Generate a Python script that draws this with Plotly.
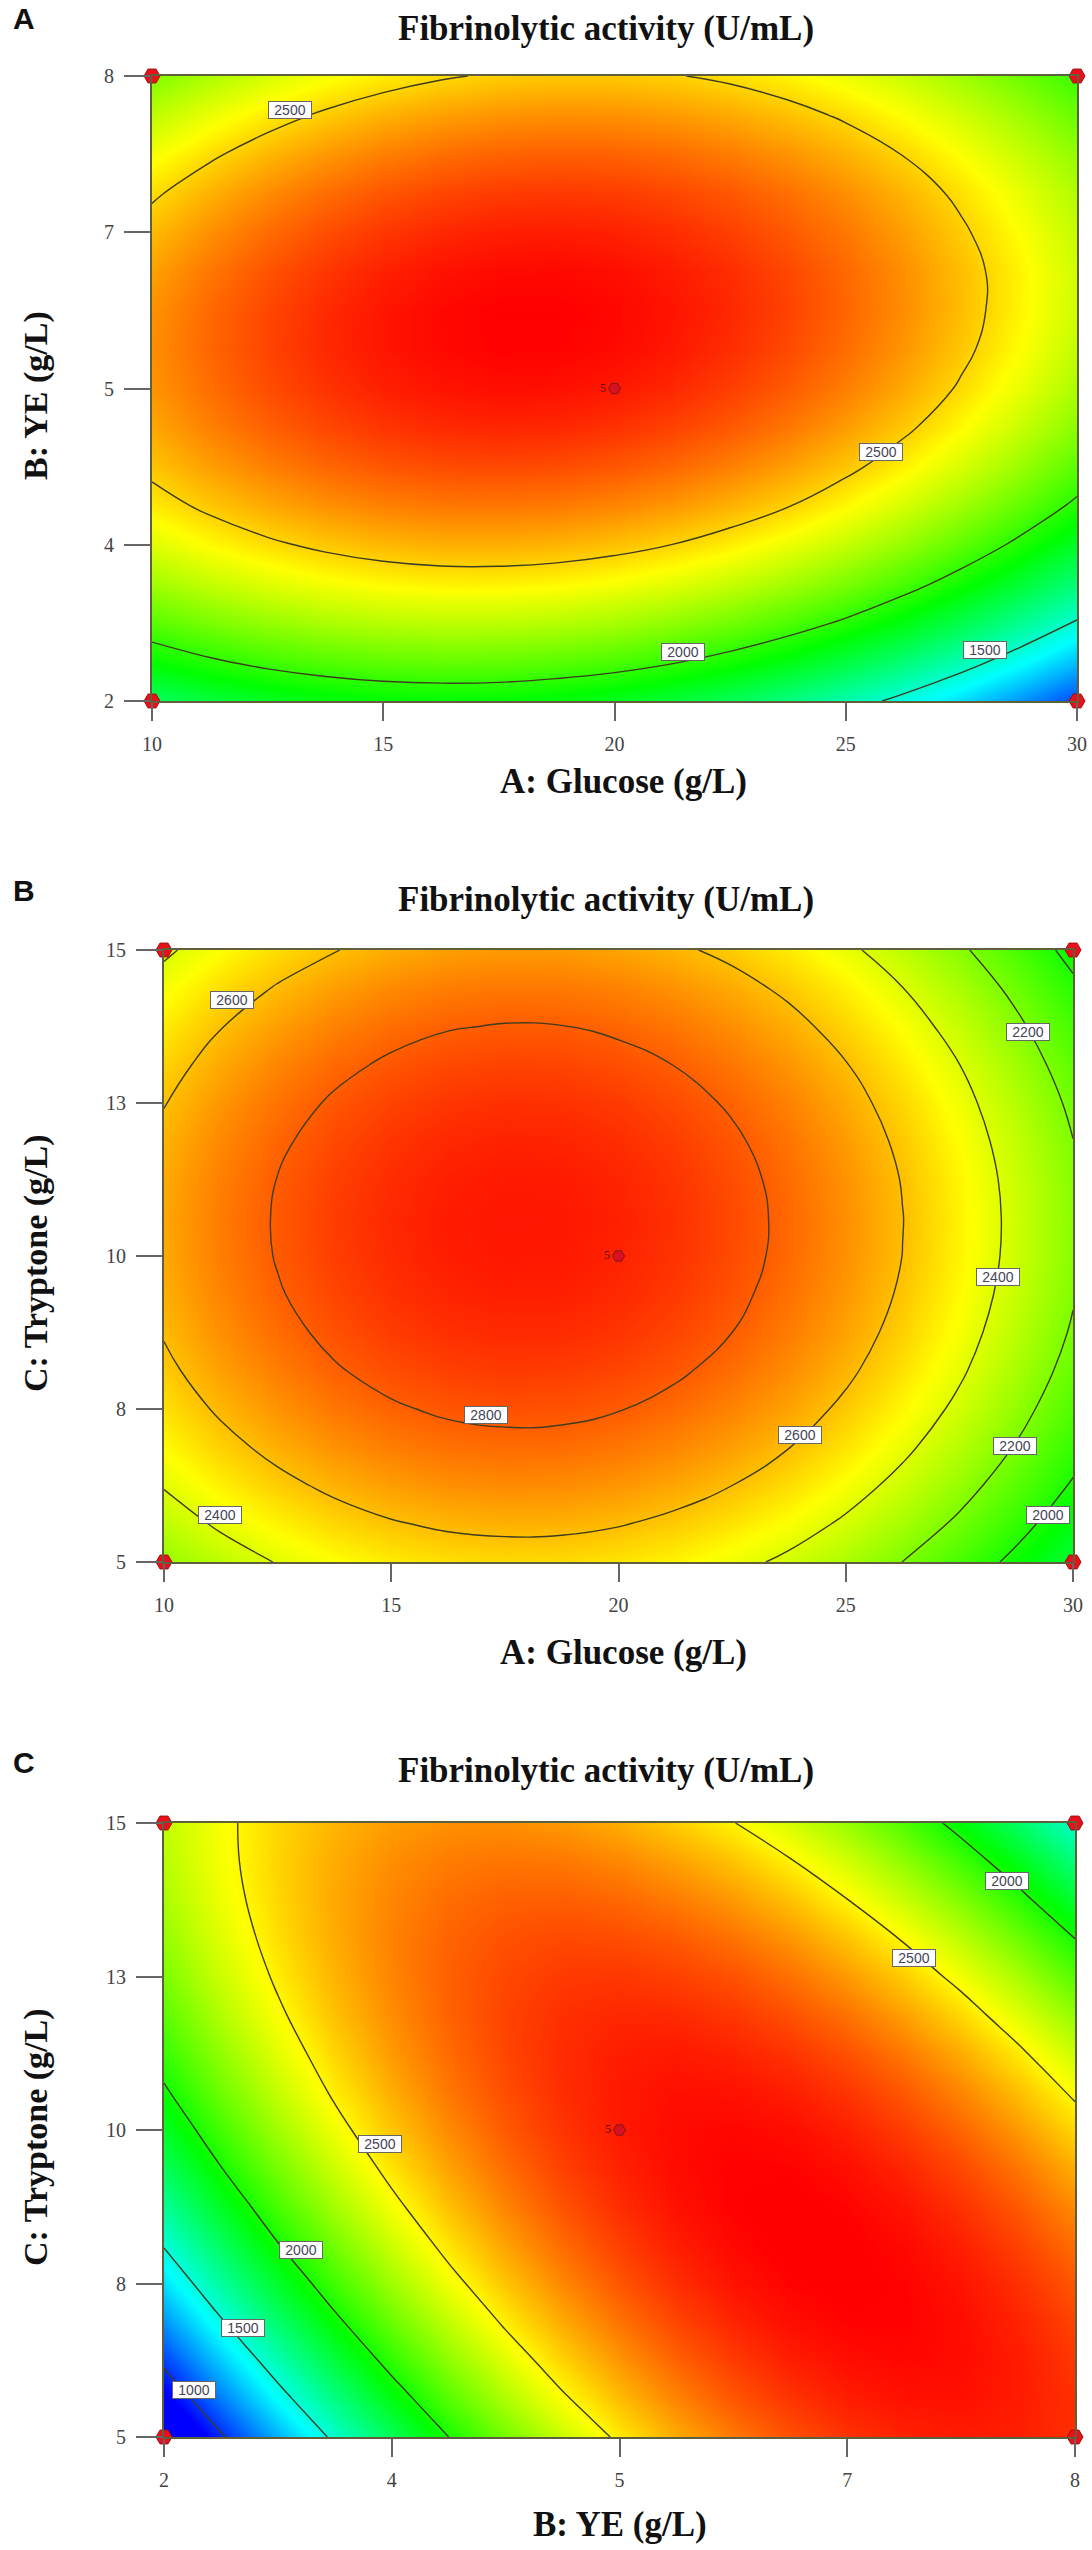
import plotly.graph_objects as go

W = 1092
H = 2550

glucose = [10, 11.25, 12.5, 13.75, 15, 16.25, 17.5, 18.75, 20, 21.25, 22.5, 23.75, 25, 26.25, 27.5, 28.75, 30]
ye = [2, 2.375, 2.75, 3.125, 3.5, 3.875, 4.25, 4.625, 5, 5.375, 5.75, 6.125, 6.5, 6.875, 7.25, 7.625, 8]
tryptone = [5, 5.625, 6.25, 6.875, 7.5, 8.125, 8.75, 9.375, 10, 10.625, 11.25, 11.875, 12.5, 13.125, 13.75, 14.375, 15]

# response, rows go bottom to top
z_a = [
    [1726, 1790, 1841, 1878, 1901, 1909, 1904, 1884, 1851, 1802, 1739, 1661, 1568, 1460, 1337, 1198, 1044],
    [1915, 1981, 2034, 2072, 2097, 2108, 2105, 2086, 2056, 2010, 1949, 1874, 1785, 1680, 1561, 1426, 1277],
    [2082, 2150, 2204, 2245, 2272, 2285, 2283, 2268, 2239, 2194, 2137, 2065, 1979, 1877, 1762, 1630, 1486],
    [2228, 2297, 2354, 2396, 2425, 2440, 2440, 2427, 2400, 2358, 2303, 2234, 2151, 2052, 1940, 1813, 1672],
    [2351, 2422, 2480, 2524, 2555, 2572, 2574, 2563, 2538, 2499, 2447, 2380, 2299, 2204, 2095, 1971, 1833],
    [2452, 2525, 2585, 2631, 2664, 2682, 2686, 2677, 2655, 2619, 2569, 2505, 2426, 2333, 2227, 2107, 1973],
    [2531, 2606, 2667, 2715, 2750, 2770, 2777, 2769, 2749, 2715, 2667, 2605, 2529, 2439, 2336, 2218, 2087],
    [2589, 2665, 2729, 2778, 2815, 2837, 2846, 2842, 2822, 2789, 2744, 2684, 2610, 2523, 2422, 2308, 2179],
    [2625, 2703, 2768, 2819, 2858, 2882, 2893, 2890, 2873, 2842, 2798, 2740, 2669, 2585, 2486, 2374, 2248],
    [2639, 2719, 2786, 2839, 2879, 2904, 2917, 2916, 2902, 2874, 2831, 2776, 2706, 2623, 2527, 2417, 2293],
    [2631, 2713, 2781, 2836, 2878, 2905, 2920, 2920, 2908, 2882, 2842, 2789, 2720, 2640, 2546, 2437, 2316],
    [2602, 2685, 2756, 2812, 2856, 2885, 2901, 2904, 2893, 2868, 2831, 2779, 2714, 2636, 2544, 2439, 2320],
    [2550, 2635, 2707, 2765, 2811, 2842, 2860, 2864, 2855, 2832, 2796, 2746, 2683, 2607, 2517, 2413, 2296],
    [2482, 2569, 2643, 2703, 2750, 2783, 2803, 2809, 2802, 2781, 2747, 2699, 2638, 2563, 2475, 2373, 2258],
    [2392, 2481, 2557, 2618, 2667, 2702, 2724, 2731, 2726, 2707, 2674, 2628, 2569, 2496, 2409, 2309, 2196],
    [2285, 2376, 2453, 2517, 2567, 2604, 2627, 2637, 2633, 2615, 2585, 2540, 2483, 2411, 2327, 2228, 2117],
    [2161, 2253, 2333, 2398, 2450, 2488, 2514, 2525, 2523, 2507, 2478, 2436, 2380, 2310, 2227, 2131, 2021],
]
z_b = [
    [2246, 2334, 2406, 2463, 2505, 2532, 2543, 2540, 2521, 2487, 2438, 2374, 2294, 2199, 2090, 1964, 1824],
    [2332, 2420, 2492, 2549, 2591, 2618, 2629, 2626, 2607, 2573, 2524, 2460, 2380, 2285, 2176, 2050, 1910],
    [2408, 2496, 2568, 2625, 2667, 2694, 2705, 2702, 2683, 2649, 2600, 2536, 2456, 2361, 2252, 2126, 1986],
    [2474, 2562, 2634, 2691, 2733, 2760, 2771, 2768, 2749, 2715, 2666, 2602, 2522, 2427, 2318, 2192, 2052],
    [2529, 2617, 2689, 2746, 2788, 2815, 2826, 2823, 2804, 2770, 2721, 2657, 2577, 2482, 2373, 2247, 2107],
    [2574, 2662, 2734, 2791, 2833, 2860, 2871, 2868, 2849, 2815, 2766, 2702, 2622, 2527, 2418, 2292, 2152],
    [2608, 2696, 2768, 2825, 2867, 2894, 2905, 2902, 2883, 2849, 2800, 2736, 2656, 2561, 2452, 2326, 2186],
    [2632, 2720, 2792, 2849, 2891, 2918, 2929, 2926, 2907, 2873, 2824, 2760, 2680, 2585, 2476, 2350, 2210],
    [2646, 2734, 2806, 2863, 2905, 2932, 2943, 2940, 2921, 2887, 2838, 2774, 2694, 2599, 2490, 2364, 2224],
    [2649, 2737, 2809, 2866, 2908, 2935, 2946, 2943, 2924, 2890, 2841, 2777, 2697, 2602, 2493, 2367, 2227],
    [2642, 2730, 2802, 2859, 2901, 2928, 2939, 2936, 2917, 2883, 2834, 2770, 2690, 2595, 2486, 2360, 2220],
    [2624, 2712, 2784, 2841, 2883, 2910, 2921, 2918, 2899, 2865, 2816, 2752, 2672, 2577, 2468, 2342, 2202],
    [2596, 2684, 2756, 2813, 2855, 2882, 2893, 2890, 2871, 2837, 2788, 2724, 2644, 2549, 2440, 2314, 2174],
    [2557, 2645, 2717, 2774, 2816, 2843, 2854, 2851, 2832, 2798, 2749, 2685, 2605, 2510, 2401, 2275, 2135],
    [2508, 2596, 2668, 2725, 2767, 2794, 2805, 2802, 2783, 2749, 2700, 2636, 2556, 2461, 2352, 2226, 2086],
    [2449, 2537, 2609, 2666, 2708, 2735, 2746, 2743, 2724, 2690, 2641, 2577, 2497, 2402, 2293, 2167, 2027],
    [2379, 2467, 2539, 2596, 2638, 2665, 2676, 2673, 2654, 2620, 2571, 2507, 2427, 2332, 2223, 2097, 1957],
]
z_c = [
    [665, 978, 1268, 1535, 1778, 2000, 2198, 2373, 2525, 2655, 2760, 2844, 2904, 2941, 2956, 2946, 2915],
    [858, 1158, 1437, 1691, 1922, 2132, 2317, 2481, 2620, 2737, 2831, 2902, 2950, 2975, 2977, 2956, 2912],
    [1038, 1326, 1592, 1835, 2054, 2251, 2424, 2576, 2703, 2808, 2890, 2949, 2984, 2997, 2988, 2954, 2898],
    [1207, 1483, 1737, 1967, 2174, 2359, 2520, 2659, 2774, 2867, 2936, 2983, 3006, 3007, 2985, 2939, 2871],
    [1365, 1629, 1870, 2088, 2283, 2456, 2604, 2731, 2834, 2915, 2972, 3006, 3017, 3006, 2972, 2913, 2833],
    [1511, 1762, 1992, 2197, 2380, 2540, 2677, 2791, 2882, 2951, 2995, 3018, 3016, 2993, 2946, 2876, 2783],
    [1645, 1884, 2102, 2295, 2465, 2614, 2738, 2841, 2919, 2975, 3008, 3018, 3005, 2969, 2910, 2828, 2723],
    [1768, 1995, 2200, 2381, 2539, 2676, 2788, 2878, 2944, 2988, 3008, 3006, 2981, 2933, 2862, 2767, 2650],
    [1880, 2095, 2288, 2457, 2602, 2726, 2826, 2904, 2958, 2990, 2998, 2984, 2946, 2885, 2802, 2695, 2566],
    [1980, 2183, 2363, 2520, 2653, 2765, 2853, 2918, 2960, 2980, 2975, 2949, 2901, 2829, 2735, 2616, 2476],
    [2068, 2258, 2427, 2571, 2693, 2792, 2868, 2921, 2951, 2959, 2942, 2904, 2844, 2761, 2654, 2525, 2373],
    [2145, 2323, 2479, 2612, 2721, 2808, 2871, 2913, 2930, 2925, 2897, 2846, 2775, 2680, 2563, 2421, 2258],
    [2210, 2376, 2520, 2640, 2737, 2812, 2863, 2892, 2897, 2880, 2842, 2780, 2695, 2588, 2459, 2307, 2133],
    [2264, 2418, 2550, 2657, 2742, 2805, 2844, 2860, 2853, 2824, 2774, 2701, 2604, 2487, 2345, 2182, 1998],
    [2306, 2448, 2567, 2663, 2735, 2786, 2812, 2817, 2797, 2755, 2695, 2610, 2502, 2372, 2222, 2047, 1853],
    [2336, 2465, 2573, 2656, 2717, 2755, 2769, 2762, 2730, 2676, 2606, 2509, 2390, 2250, 2088, 1905, 1700],
    [2355, 2472, 2567, 2638, 2687, 2713, 2715, 2695, 2651, 2585, 2504, 2396, 2266, 2116, 1944, 1750, 1537],
]

ticks_glucose = [10, 15, 20, 25, 30]
ticks_ye = [2, 3.5, 5, 6.5, 8]
labels_ye = ["2", "4", "5", "7", "8"]
ticks_tryptone = [5, 7.5, 10, 12.5, 15]
labels_tryptone = ["5", "8", "10", "13", "15"]

# contour labels: x, y, text
labels_a = [(12.98, 7.67, "2500"), (25.77, 4.39, "2500"), (21.49, 2.47, "2000"), (28.0, 2.485, "1500")]
labels_b = [(11.5, 14.19, "2600"), (29.0, 13.66, "2200"), (28.34, 9.65, "2400"), (17.08, 7.40, "2800"),
            (24.0, 7.08, "2600"), (28.73, 6.90, "2200"), (11.23, 5.77, "2400"), (29.45, 5.77, "2000")]
labels_c = [(7.55, 14.05, "2000"), (6.94, 12.8, "2500"), (3.42, 9.78, "2500"), (2.90, 8.04, "2000"),
            (2.52, 6.77, "1500"), (2.20, 5.77, "1000")]

rainbow = [[0, "#0000ff"], [0.25, "#00ffff"], [0.5, "#00ff00"], [0.75, "#ffff00"], [1, "#ff0000"]]

panels = [
    dict(letter="A", x=glucose, y=ye, z=z_a, zmax=2920, start=1500, end=2500, size=500, labels=labels_a,
         xticks=ticks_glucose, xlabels=[str(t) for t in ticks_glucose], yticks=ticks_ye, ylabels=labels_ye,
         xname="A: Glucose (g/L)", yname="B: YE (g/L)",
         box=(152, 1077, 76, 701), letter_y=19, title_y=28, xname_pos=(623, 782), yname_y=396),
    dict(letter="B", x=glucose, y=tryptone, z=z_b, zmax=2990, start=2000, end=2800, size=200, labels=labels_b,
         xticks=ticks_glucose, xlabels=[str(t) for t in ticks_glucose], yticks=ticks_tryptone, ylabels=labels_tryptone,
         xname="A: Glucose (g/L)", yname="C: Tryptone (g/L)",
         box=(164, 1073, 950, 1562), letter_y=891, title_y=899, xname_pos=(623, 1652), yname_y=1263),
    dict(letter="C", x=ye, y=tryptone, z=z_c, zmax=3010, start=1000, end=2500, size=500, labels=labels_c,
         xticks=ticks_ye, xlabels=labels_ye, yticks=ticks_tryptone, ylabels=labels_tryptone,
         xname="B: YE (g/L)", yname="C: Tryptone (g/L)",
         box=(164, 1075, 1823, 2437), letter_y=1762, title_y=1771, xname_pos=(620, 2524), yname_y=2137),
]

fig = go.Figure()
annotations = []
axes = {}


def paper_text(text, px, py, size, family="Liberation Serif", angle=0):
    annotations.append(dict(text=text, x=px / W, y=1 - py / H, xref="paper", yref="paper",
                            showarrow=False, textangle=angle, xanchor="center", yanchor="middle",
                            font=dict(family=family, size=size, color="#111111")))


for i, p in enumerate(panels):
    n = "" if i == 0 else str(i + 1)
    left, right, top, bottom = p["box"]
    x0, x1 = p["x"][0], p["x"][-1]
    y0, y1 = p["y"][0], p["y"][-1]
    xm, ym = p["x"][8], p["y"][8]

    fig.add_trace(go.Contour(
        x=p["x"], y=p["y"], z=p["z"], xaxis="x" + n, yaxis="y" + n,
        colorscale=rainbow, zmin=900, zmax=p["zmax"], showscale=False,
        autocontour=False,
        contours=dict(coloring="heatmap", start=p["start"], end=p["end"], size=p["size"]),
        line=dict(color="#3d3d22", width=1.4, smoothing=1.3),
    ))
    # design points, corners and centre
    fig.add_trace(go.Scatter(
        x=[x0, x1, x0, x1], y=[y0, y0, y1, y1], xaxis="x" + n, yaxis="y" + n,
        mode="markers", cliponaxis=False, showlegend=False,
        marker=dict(symbol="hexagon2", size=16, color="#e8101a", line=dict(color="#a01010", width=1)),
    ))
    fig.add_trace(go.Scatter(
        x=[xm], y=[ym], xaxis="x" + n, yaxis="y" + n, text=["5"], textposition="middle left",
        mode="markers+text", showlegend=False, textfont=dict(family="Liberation Serif", size=12, color="#5a1010"),
        marker=dict(symbol="hexagon2", size=12, color="#d81020", line=dict(color="#801818", width=1)),
    ))

    axes["xaxis" + n] = dict(
        domain=[left / W, right / W], range=[x0, x1], anchor="y" + n, automargin=False,
        tickmode="array", tickvals=p["xticks"], ticktext=p["xlabels"], ticks="outside", ticklen=18, tickwidth=1.5,
        tickcolor="#666666", ticklabelstandoff=6, tickfont=dict(family="Liberation Serif", size=20, color="#444444"),
        showgrid=False, zeroline=False, showline=True, mirror=True, linecolor="#5f5f3c", linewidth=2,
    )
    axes["yaxis" + n] = dict(
        domain=[1 - bottom / H, 1 - top / H], range=[y0, y1], anchor="x" + n, automargin=False,
        tickmode="array", tickvals=p["yticks"], ticktext=p["ylabels"], ticks="outside", ticklen=26, tickwidth=1.5,
        tickcolor="#666666", ticklabelstandoff=6, tickfont=dict(family="Liberation Serif", size=20, color="#444444"),
        showgrid=False, zeroline=False, showline=True, mirror=True, linecolor="#5f5f3c", linewidth=2,
    )

    for lx, ly, txt in p["labels"]:
        annotations.append(dict(x=lx, y=ly, xref="x" + n, yref="y" + n, text=txt, showarrow=False,
                                width=42, height=16, bgcolor="#ffffff", bordercolor="#666666", borderwidth=1,
                                borderpad=0, font=dict(family="Liberation Sans", size=14, color="#444455")))

    paper_text("<b>%s</b>" % p["letter"], 24, p["letter_y"], 30, family="Liberation Sans")
    paper_text("<b>Fibrinolytic activity (U/mL)</b>", 606, p["title_y"], 35)
    paper_text("<b>%s</b>" % p["xname"], p["xname_pos"][0], p["xname_pos"][1], 35)
    paper_text("<b>%s</b>" % p["yname"], 36, p["yname_y"], 34, angle=-90)

fig.update_layout(
    width=W, height=H, margin=dict(l=0, r=0, t=0, b=0),
    paper_bgcolor="white", plot_bgcolor="white", showlegend=False,
    annotations=annotations, **axes,
)

fig.write_html("out.html", config={"displayModeBar": False}, post_script="document.body.style.margin='0';")
